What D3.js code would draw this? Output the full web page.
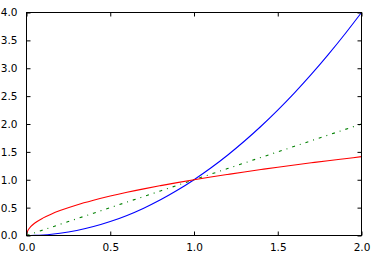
<!DOCTYPE html>
<html><head><meta charset="utf-8">
<script src="https://cdn.jsdelivr.net/npm/d3@7"></script>
<style>html,body{margin:0;padding:0;background:#fff;}svg{display:block;}</style>
</head><body>
<svg id="c" width="375" height="256"></svg>
<script>
// data
const xValues = [0, 0.001, 0.003, 0.01, 0.025, 0.05, 0.1, 0.15, 0.2, 0.3, 0.4, 0.5, 0.6, 0.7, 0.8, 0.9, 1.0, 1.1, 1.2, 1.3, 1.4, 1.5, 1.6, 1.7, 1.8, 1.9, 2.0];
const blueSeries = [0, 0.000001, 0.000009, 0.0001, 0.000625, 0.0025, 0.01, 0.0225, 0.04, 0.09, 0.16, 0.25, 0.36, 0.49, 0.64, 0.81, 1.0, 1.21, 1.44, 1.69, 1.96, 2.25, 2.56, 2.89, 3.24, 3.61, 4.0];
const greenSeries = [0, 0.001, 0.003, 0.01, 0.025, 0.05, 0.1, 0.15, 0.2, 0.3, 0.4, 0.5, 0.6, 0.7, 0.8, 0.9, 1.0, 1.1, 1.2, 1.3, 1.4, 1.5, 1.6, 1.7, 1.8, 1.9, 2.0];
const redSeries = [0, 0.0316, 0.0548, 0.1, 0.158, 0.224, 0.316, 0.387, 0.447, 0.548, 0.632, 0.707, 0.775, 0.837, 0.894, 0.949, 1.0, 1.049, 1.095, 1.140, 1.183, 1.225, 1.265, 1.304, 1.342, 1.378, 1.414];
const xTicks = [0, 0.5, 1.0, 1.5, 2.0];
const yTicks = [0, 0.5, 1.0, 1.5, 2.0, 2.5, 3.0, 3.5, 4.0];

const svg = d3.select("#c");
const L = 26.5, R = 361.5, T = 12.5, B = 235.5;
const x = d3.scaleLinear().domain([0, 2]).range([L, R]);
const y = d3.scaleLinear().domain([0, 4]).range([B, T]);

svg.append("clipPath").attr("id", "pc").append("rect")
  .attr("x", L).attr("y", T).attr("width", R - L).attr("height", B - T);

const line = d3.line().x(d => x(d[0])).y(d => y(d[1])).curve(d3.curveMonotoneX);
const g = svg.append("g").attr("clip-path", "url(#pc)");
const series = [
  {v: blueSeries, color: "#0000ff", dash: null},
  {v: greenSeries, color: "#008000", dash: "3,5,1,5"},
  {v: redSeries, color: "#ff0000", dash: null}
];
series.forEach(s => {
  g.append("path").datum(xValues.map((xv, i) => [xv, s.v[i]]))
    .attr("d", line).attr("fill", "none").attr("stroke", s.color)
    .attr("stroke-width", 1.1).attr("stroke-dasharray", s.dash);
});

const fmt = d3.format(".1f");
const font = "DejaVu Sans";
const axB = svg.append("g").attr("transform", `translate(0,${B})`)
  .call(d3.axisBottom(x).tickValues(xTicks).tickFormat(fmt).tickSizeInner(-4).tickSizeOuter(0).tickPadding(8));
const axT = svg.append("g").attr("transform", `translate(0,${T})`)
  .call(d3.axisTop(x).tickValues(xTicks).tickFormat("").tickSizeInner(-4).tickSizeOuter(0));
const axL = svg.append("g").attr("transform", `translate(${L},0)`)
  .call(d3.axisLeft(y).tickValues(yTicks).tickFormat(fmt).tickSizeInner(-4).tickSizeOuter(0).tickPadding(9));
const axR = svg.append("g").attr("transform", `translate(${R},0)`)
  .call(d3.axisRight(y).tickValues(yTicks).tickFormat("").tickSizeInner(-4).tickSizeOuter(0));
[axB, axT, axL, axR].forEach(a => {
  a.select(".domain").remove();
  a.selectAll(".tick line").attr("stroke", "#000");
  a.selectAll("text").attr("font-family", font).attr("font-size", 10.5).attr("fill", "#000");
});
svg.append("rect").attr("x", L).attr("y", T).attr("width", R - L).attr("height", B - T)
  .attr("fill", "none").attr("stroke", "#000").attr("stroke-width", 1);
</script>
</body></html>
